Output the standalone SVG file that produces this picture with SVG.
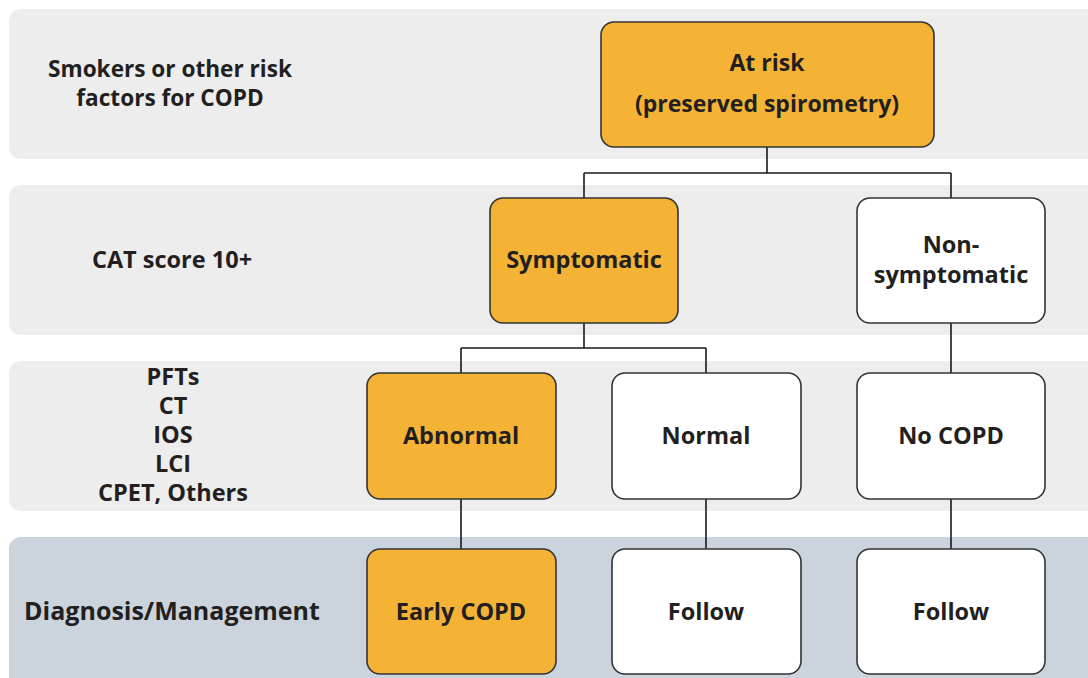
<svg xmlns="http://www.w3.org/2000/svg" width="1088" height="678" viewBox="0 0 1088 678">
<style>
.band{fill:#ededed}
.band4{fill:#cbd3dc}
.box{stroke:#333333;stroke-width:1.6}
.or{fill:#f4b335}
.wh{fill:#ffffff}
.t{font-family:"Open Sans",Lato,sans-serif;font-weight:bold;font-size:23.5px;fill:#231f20;text-anchor:middle}
.c{fill:none;stroke:#1a1a1a;stroke-width:1.6}
</style>
<g id="bands">
<rect class="band" x="9" y="9" width="1100" height="150" rx="12"/>
<rect class="band" x="9" y="185" width="1100" height="150" rx="12"/>
<rect class="band" x="9" y="361" width="1100" height="150" rx="12"/>
<rect class="band4" x="9" y="537" width="1100" height="160" rx="12"/>
</g>
<g id="row-labels">
<text class="t" x="170" y="77" style="font-size:22.6px">Smokers or other risk</text>
<text class="t" x="170" y="106" style="font-size:22.6px">factors for COPD</text>
<text class="t" x="172" y="268">CAT score 10+</text>
<text class="t" x="173" y="385">PFTs</text>
<text class="t" x="173" y="414">CT</text>
<text class="t" x="173" y="443">IOS</text>
<text class="t" x="173" y="472">LCI</text>
<text class="t" x="173" y="501">CPET, Others</text>
<text class="t" x="172" y="620" style="font-size:25px">Diagnosis/Management</text>
</g>
<g id="connectors">
<path class="c" d="M767,147 V173 M584,173 H951 M584,173 V198 M951,173 V198"/>
<path class="c" d="M584,323 V348 M461,348 H706 M461,348 V373 M706,348 V373"/>
<path class="c" d="M951,323 V373"/>
<path class="c" d="M461,499 V549 M706,499 V549 M951,499 V549"/>
</g>
<g id="at-risk">
<rect class="box or" x="601" y="22" width="333" height="125" rx="13"/>
<text class="t" x="767" y="71" style="font-size:23px">At risk</text>
<text class="t" x="767" y="112" style="font-size:23px">(preserved spirometry)</text>
</g>
<g id="symptomatic">
<rect class="box or" x="490" y="198" width="188" height="125" rx="13"/>
<text class="t" x="584" y="268">Symptomatic</text>
</g>
<g id="non-symptomatic">
<rect class="box wh" x="857" y="198" width="188" height="125" rx="13"/>
<text class="t" x="951" y="253">Non-</text>
<text class="t" x="951" y="283">symptomatic</text>
</g>
<g id="abnormal">
<rect class="box or" x="367" y="373" width="189" height="126" rx="13"/>
<text class="t" x="461" y="444">Abnormal</text>
</g>
<g id="normal">
<rect class="box wh" x="612" y="373" width="189" height="126" rx="13"/>
<text class="t" x="706" y="444">Normal</text>
</g>
<g id="no-copd">
<rect class="box wh" x="857" y="373" width="188" height="126" rx="13"/>
<text class="t" x="951" y="444">No COPD</text>
</g>
<g id="early-copd">
<rect class="box or" x="367" y="549" width="189" height="125" rx="13"/>
<text class="t" x="461" y="620">Early COPD</text>
</g>
<g id="follow-1">
<rect class="box wh" x="612" y="549" width="189" height="125" rx="13"/>
<text class="t" x="706" y="620">Follow</text>
</g>
<g id="follow-2">
<rect class="box wh" x="857" y="549" width="188" height="125" rx="13"/>
<text class="t" x="951" y="620">Follow</text>
</g>
</svg>
